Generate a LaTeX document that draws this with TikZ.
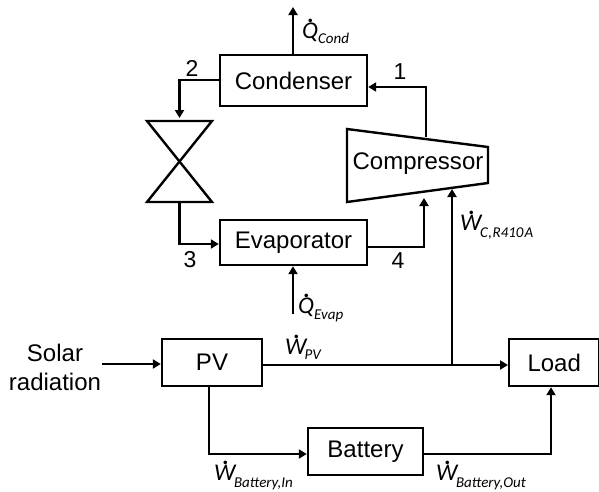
\documentclass[tikz,border=0pt]{standalone}
\usepackage{fontspec}
\setmainfont{Liberation Sans}
\newfontfamily\lblfont{Carlito}
\usetikzlibrary{arrows.meta,calc}
% #1 letter, #2 subscript, #3 kern before subscript, #4 drop of subscript
\newcommand{\flowlab}[4]{\fontsize{24}{24}\selectfont\lblfont\itshape\setbox0=\hbox{#1}\rlap{\hspace*{\dimexpr0.55\wd0-3.4pt\relax}\raisebox{16pt}{\bfseries .}}\box0\kern#3\raisebox{-#4}{\fontsize{15}{15}\selectfont #2}}
\tikzset{
  x=1pt,y=-1pt,
  box/.style={draw,line width=2.4pt,inner sep=0pt,rectangle},
  shape outline/.style={draw,line width=2.4pt,line join=miter},
  conn/.style={line width=2.4pt,line join=miter},
  flow/.style={conn,-{Triangle[length=8pt,width=9pt]}},
  main/.style={font=\fontsize{24}{29}\selectfont,align=center,inner sep=0pt},
  num/.style={font=\fontsize{23}{24}\selectfont,inner sep=0pt},
  lab/.style={inner sep=0pt,anchor=base west}
}
\begin{document}
\begin{tikzpicture}
\useasboundingbox (0,0) rectangle (599,491);
% boxes
\node[box,main,minimum width=147pt,minimum height=51pt] (cond) at (293.5,80.5) {Condenser};
\node[box,main,minimum width=147pt,minimum height=45pt] (evap) at (293.5,242.5) {Evaporator};
\node[box,main,minimum width=100pt,minimum height=47pt] (pv) at (212,362.5) {PV};
\node[box,main,minimum width=90pt,minimum height=47pt,anchor=west] (load) at (508,362.5) {Load};
\node[box,main,minimum width=115pt,minimum height=47pt] (batt) at (365.5,451.5) {Battery};
\node[main] (solar) at (55,367) {Solar\\radiation};
% compressor
\coordinate (c1) at (347,129);
\coordinate (c2) at (488,147);
\coordinate (c3) at (488,183);
\coordinate (c4) at (347,202);
\draw[shape outline] (c1) -- (c2) -- (c3) -- (c4) -- cycle;
\node[main] (comp) at (418,164) {Compressor};
% valve
\coordinate (v1) at (147,121);
\coordinate (v2) at (212,121);
\coordinate (v3) at (147,202);
\coordinate (v4) at (212,202);
\draw[shape outline] (v1) -- (v2) -- (v3) -- (v4) -- cycle;
\coordinate (vtop) at (179.5,118);
\coordinate (vbot) at (179.5,202);
% free ends and junctions
\coordinate (qcondend) at (293,7);
\coordinate (qevapstart) at (293,314);
\coordinate (compout) at (426,137);
\coordinate (compin) at (424,198);
\coordinate (compw) at (452,189);
\coordinate (junc) at (452,365);
\coordinate (solarstart) at (102,364);
% connectors
\draw[flow] (cond.north -| qcondend) -- (qcondend);
\draw[flow] (cond.west |- 0,80) -- (179.5,80) -- (vtop);
\draw[flow] (compout) -- (426,87) -- (cond.east |- 0,87);
\draw[flow] (vbot) -- (179.5,244) -- (evap.west |- 0,244);
\draw[flow] (evap.east |- 0,247) -- (424,247) -- (compin);
\draw[flow] (qevapstart) -- (evap.south -| qevapstart);
\draw[flow] (solarstart) -- (pv.west |- solarstart);
\draw[flow] (pv.east |- junc) -- (load.west |- junc);
\draw[flow] (junc) -- (compw);
\draw[flow] (pv.south -| 209,0) -- (209,454) -- (batt.west |- 0,454);
\draw[flow] (batt.east |- 0,454) -- (551,454) -- (load.south -| 551,0);
% numbers
\node[num] (n1) at (400,72) {1};
\node[num] (n2) at (192,68) {2};
\node[num] (n3) at (190,260) {3};
\node[num] (n4) at (398,261) {4};
% labels
\node[lab] (lqc) at (302,38) {\flowlab{Q}{Cond}{0pt}{5pt}};
\node[lab] (lwc) at (460,230) {\flowlab{W}{C\kern.5pt,\kern.5pt R410\kern1pt A}{-1.5pt}{7pt}};
\node[lab] (lqe) at (298,313) {\flowlab{Q}{Evap}{0pt}{6pt}};
\node[lab] (lwp) at (285,354) {\flowlab{W}{PV}{-2pt}{5pt}};
\node[lab] (lwi) at (214,480) {\flowlab{W}{Battery,In}{-1.5pt}{7pt}};
\node[lab] (lwo) at (436,480) {\flowlab{W}{Battery,Out}{-1.5pt}{7pt}};
\end{tikzpicture}
\end{document}
